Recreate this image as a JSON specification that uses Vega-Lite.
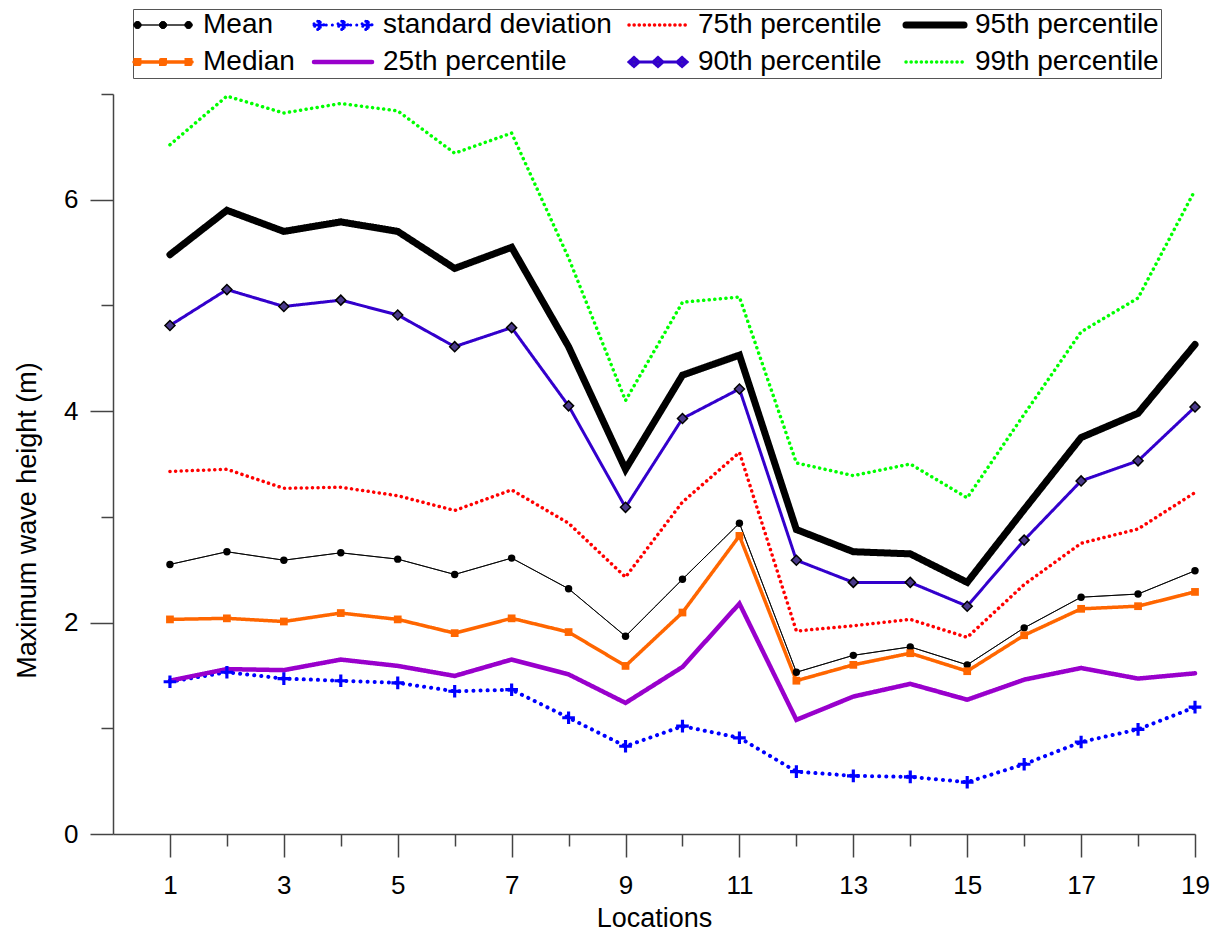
{
  "$schema": "https://vega.github.io/schema/vega-lite/v6.json",
  "autosize": {"type": "none"},
  "padding": {"left": 113, "top": 94, "right": 28, "bottom": 99},
  "width": 1082,
  "height": 740,
  "background": "white",
  "config": {
    "font": "Liberation Sans",
    "view": {"stroke": null},
    "axis": {
      "domainColor": "#444",
      "tickColor": "#444",
      "domainWidth": 1.5,
      "tickWidth": 1.5,
      "grid": false,
      "labelFont": "Liberation Sans",
      "labelFontSize": 26,
      "labelColor": "black",
      "titleFont": "Liberation Sans",
      "titleFontSize": 27,
      "titleFontWeight": "normal",
      "titleColor": "black",
      "labelOverlap": false,
      "labelFlush": false
    },
    "legend": {
      "labelFont": "Liberation Sans",
      "labelFontSize": 28,
      "labelColor": "black",
      "labelLimit": 400
    }
  },
  "data": {
    "values": [
      {"loc": 1, "Mean": 2.55, "Median": 2.03, "standard deviation": 1.44, "25th percentile": 1.45, "75th percentile": 3.43, "90th percentile": 4.81, "95th percentile": 5.48, "99th percentile": 6.52},
      {"loc": 2, "Mean": 2.67, "Median": 2.04, "standard deviation": 1.53, "25th percentile": 1.56, "75th percentile": 3.45, "90th percentile": 5.15, "95th percentile": 5.90, "99th percentile": 6.98},
      {"loc": 3, "Mean": 2.59, "Median": 2.01, "standard deviation": 1.47, "25th percentile": 1.55, "75th percentile": 3.27, "90th percentile": 4.99, "95th percentile": 5.70, "99th percentile": 6.82},
      {"loc": 4, "Mean": 2.66, "Median": 2.09, "standard deviation": 1.45, "25th percentile": 1.65, "75th percentile": 3.28, "90th percentile": 5.05, "95th percentile": 5.79, "99th percentile": 6.91},
      {"loc": 5, "Mean": 2.60, "Median": 2.03, "standard deviation": 1.43, "25th percentile": 1.59, "75th percentile": 3.20, "90th percentile": 4.91, "95th percentile": 5.70, "99th percentile": 6.84},
      {"loc": 6, "Mean": 2.455, "Median": 1.90, "standard deviation": 1.35, "25th percentile": 1.495, "75th percentile": 3.06, "90th percentile": 4.61, "95th percentile": 5.35, "99th percentile": 6.44},
      {"loc": 7, "Mean": 2.61, "Median": 2.04, "standard deviation": 1.365, "25th percentile": 1.65, "75th percentile": 3.255, "90th percentile": 4.79, "95th percentile": 5.55, "99th percentile": 6.63},
      {"loc": 8, "Mean": 2.32, "Median": 1.91, "standard deviation": 1.10, "25th percentile": 1.51, "75th percentile": 2.94, "90th percentile": 4.05, "95th percentile": 4.61, "99th percentile": 5.45},
      {"loc": 9, "Mean": 1.87, "Median": 1.59, "standard deviation": 0.83, "25th percentile": 1.24, "75th percentile": 2.43, "90th percentile": 3.09, "95th percentile": 3.45, "99th percentile": 4.10},
      {"loc": 10, "Mean": 2.41, "Median": 2.095, "standard deviation": 1.02, "25th percentile": 1.58, "75th percentile": 3.14, "90th percentile": 3.93, "95th percentile": 4.34, "99th percentile": 5.03},
      {"loc": 11, "Mean": 2.94, "Median": 2.82, "standard deviation": 0.91, "25th percentile": 2.18, "75th percentile": 3.61, "90th percentile": 4.21, "95th percentile": 4.53, "99th percentile": 5.08},
      {"loc": 12, "Mean": 1.53, "Median": 1.45, "standard deviation": 0.59, "25th percentile": 1.08, "75th percentile": 1.92, "90th percentile": 2.59, "95th percentile": 2.88, "99th percentile": 3.51},
      {"loc": 13, "Mean": 1.69, "Median": 1.60, "standard deviation": 0.55, "25th percentile": 1.30, "75th percentile": 1.97, "90th percentile": 2.38, "95th percentile": 2.67, "99th percentile": 3.39},
      {"loc": 14, "Mean": 1.77, "Median": 1.71, "standard deviation": 0.54, "25th percentile": 1.42, "75th percentile": 2.03, "90th percentile": 2.38, "95th percentile": 2.65, "99th percentile": 3.50},
      {"loc": 15, "Mean": 1.60, "Median": 1.54, "standard deviation": 0.49, "25th percentile": 1.27, "75th percentile": 1.86, "90th percentile": 2.155, "95th percentile": 2.38, "99th percentile": 3.18},
      {"loc": 16, "Mean": 1.95, "Median": 1.88, "standard deviation": 0.66, "25th percentile": 1.46, "75th percentile": 2.36, "90th percentile": 2.78, "95th percentile": 3.07, "99th percentile": 3.97},
      {"loc": 17, "Mean": 2.24, "Median": 2.13, "standard deviation": 0.87, "25th percentile": 1.57, "75th percentile": 2.75, "90th percentile": 3.34, "95th percentile": 3.75, "99th percentile": 4.75},
      {"loc": 18, "Mean": 2.27, "Median": 2.155, "standard deviation": 0.99, "25th percentile": 1.47, "75th percentile": 2.885, "90th percentile": 3.53, "95th percentile": 3.98, "99th percentile": 5.07},
      {"loc": 19, "Mean": 2.49, "Median": 2.29, "standard deviation": 1.20, "25th percentile": 1.52, "75th percentile": 3.23, "90th percentile": 4.04, "95th percentile": 4.63, "99th percentile": 6.09}
    ]
  },
  "transform": [
    {"fold": ["Mean", "Median", "standard deviation", "25th percentile", "75th percentile", "90th percentile", "95th percentile", "99th percentile"], "as": ["series", "v"]}
  ],
  "encoding": {
    "x": {
      "field": "loc", "type": "quantitative",
      "scale": {"domain": [0, 19], "nice": false, "zero": false},
      "axis": {
        "values": [1, 2, 3, 4, 5, 6, 7, 8, 9, 10, 11, 12, 13, 14, 15, 16, 17, 18, 19],
        "tickSize": {"condition": {"test": "datum.value % 2 === 1", "value": 23}, "value": 12},
        "labelExpr": "datum.value % 2 === 1 ? datum.label : ''",
        "labelPadding": 15,
        "labelAngle": 0,
        "title": "Locations",
        "titleY": 92,
        "titleBaseline": "alphabetic"
      }
    },
    "y": {
      "field": "v", "type": "quantitative",
      "scale": {"domain": [0, 7], "nice": false},
      "axis": {
        "values": [0, 1, 2, 3, 4, 5, 6, 7],
        "tickSize": {"condition": {"test": "datum.value % 2 === 0", "value": 23}, "value": 12},
        "labelExpr": "datum.value % 2 === 0 ? datum.label : ''",
        "labelPadding": 12,
        "title": "Maximum wave height (m)",
        "titleAngle": -90,
        "titleX": -78,
        "titleY": 426,
        "titleAlign": "center",
        "titleBaseline": "alphabetic"
      }
    }
  },
  "layer": [
    {
      "mark": {"type": "line", "strokeCap": "round"},
      "encoding": {
        "color": {
          "field": "series", "type": "nominal",
          "scale": {
            "domain": ["Mean", "Median", "standard deviation", "25th percentile", "75th percentile", "90th percentile", "95th percentile", "99th percentile"],
            "range": ["#000000", "#ff6600", "#0000ff", "#9900cc", "#ff0000", "#3300cc", "#000000", "#00ff00"]
          },
          "legend": {
            "title": null,
            "orient": "none",
            "legendX": 20,
            "legendY": -85,
            "columns": 4,
            "columnPadding": 10,
            "rowPadding": 9,
            "padding": 2,
            "strokeColor": "#555",
            "symbolSize": 900,
            "labelOffset": 40,
            "encode": {
              "symbols": {
                "update": {
                  "shape": {"signal": "datum.value === 'Mean' ? 'M-1,0H2.87M-1,0a0.233,0.233 0 1,0 0.466,0a0.233,0.233 0 1,0 -0.466,0M0.7,0a0.233,0.233 0 1,0 0.466,0a0.233,0.233 0 1,0 -0.466,0M2.4,0a0.233,0.233 0 1,0 0.466,0a0.233,0.233 0 1,0 -0.466,0' : datum.value === 'Median' ? 'M-1,0H2.87M-0.917,-0.15h0.3v0.3h-0.3zM0.783,-0.15h0.3v0.3h-0.3zM2.483,-0.15h0.3v0.3h-0.3z' : datum.value === 'standard deviation' ? 'M-1,0H2.87M-1,-0.087H-0.754V-0.333H-0.58V-0.087H-0.334V0.087H-0.58V0.333H-0.754V0.087H-1ZM0.6,-0.087H0.846V-0.333H1.02V-0.087H1.266V0.087H1.02V0.333H0.846V0.087H0.6ZM2.204,-0.087H2.45V-0.333H2.624V-0.087H2.87V0.087H2.624V0.333H2.45V0.087H2.204Z' : datum.value === '90th percentile' ? 'M-1,0H2.87M-1,0L-0.667,-0.3L-0.334,0L-0.667,0.3ZM0.6,0L0.933,-0.3L1.266,0L0.933,0.3ZM2.204,0L2.537,-0.3L2.87,0L2.537,0.3Z' : 'M-1,0H2.87'"},
                  "strokeWidth": {"signal": "datum.value === 'Mean' ? 1 : datum.value === 'Median' ? 3.5 : datum.value === 'standard deviation' ? 3 : datum.value === '75th percentile' ? 3.5 : datum.value === '95th percentile' ? 7 : datum.value === '25th percentile' ? 4.5 : datum.value === '90th percentile' ? 3 : 3.5"},
                  "strokeDash": {"signal": "datum.value === 'standard deviation' ? [0.1, 6] : (datum.value === '75th percentile' || datum.value === '99th percentile') ? [0.1, 5] : [1, 0]"},
                  "fill": {"signal": "datum.value === 'Mean' ? '#000000' : datum.value === 'Median' ? '#ff6600' : datum.value === 'standard deviation' ? '#0000ff' : datum.value === '90th percentile' ? '#4a3a8a' : 'transparent'"},
                  "strokeCap": {"value": "round"},
                  "opacity": {"value": 1}
                }
              }
            }
          }
        },
        "strokeDash": {
          "field": "series", "type": "nominal",
          "scale": {
            "domain": ["standard deviation", "75th percentile", "99th percentile", "Mean", "Median", "25th percentile", "90th percentile", "95th percentile"],
            "range": [[0.1, 7], [0.1, 5.5], [0.1, 5.5], [1, 0], [1, 0], [1, 0], [1, 0], [1, 0]]
          },
          "legend": null
        },
        "strokeWidth": {
          "field": "series", "type": "nominal",
          "scale": {
            "type": "ordinal",
            "domain": ["99th percentile", "95th percentile", "90th percentile", "75th percentile", "25th percentile", "standard deviation", "Median", "Mean"],
            "range": [3.5, 7, 3, 3.5, 4.5, 4, 3.5, 1]
          },
          "legend": null
        }
      }
    },
    {
      "transform": [{"filter": "datum.series === 'Mean'"}],
      "mark": {"type": "point", "shape": "circle", "filled": true, "fill": "#000000", "size": 55, "opacity": 1, "strokeWidth": 0}
    },
    {
      "transform": [{"filter": "datum.series === 'Median'"}],
      "mark": {"type": "point", "shape": "square", "filled": true, "fill": "#ff6600", "size": 60, "opacity": 1, "strokeWidth": 0}
    },
    {
      "transform": [{"filter": "datum.series === 'standard deviation'"}],
      "mark": {"type": "point", "shape": "M-1,-0.25H-0.25V-1H0.25V-0.25H1V0.25H0.25V1H-0.25V0.25H-1Z", "filled": true, "fill": "#0000ff", "size": 160, "opacity": 1, "strokeWidth": 0}
    },
    {
      "transform": [{"filter": "datum.series === '90th percentile'"}],
      "mark": {"type": "point", "shape": "diamond", "filled": true, "fill": "#4a3a8a", "stroke": "#000000", "strokeWidth": 1.5, "size": 100, "opacity": 1}
    }
  ]
}
